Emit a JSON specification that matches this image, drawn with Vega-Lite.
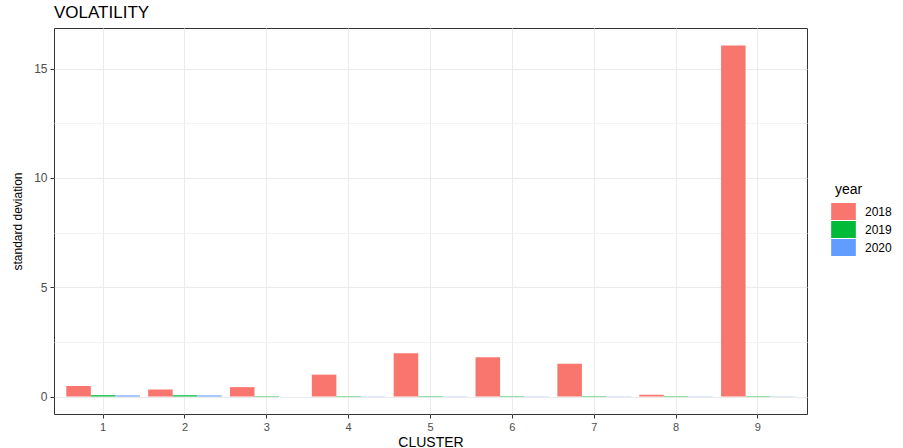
{
  "$schema": "https://vega.github.io/schema/vega-lite/v6.json",
  "width": 753,
  "height": 386,
  "autosize": "none",
  "padding": {"left": 54, "top": 28, "right": 96, "bottom": 34},
  "background": "white",
  "title": {"text": "VOLATILITY", "anchor": "start", "frame": "group", "dx": 0, "offset": 6, "fontSize": 17, "fontWeight": "normal", "font": "Liberation Sans", "color": "#000000"},
  "config": {
    "view": {"stroke": "#333333", "strokeWidth": 1},
    "font": "Liberation Sans"
  },
  "data": {"values": [
    {"cluster": "1", "year": "2018", "sd": 0.48},
    {"cluster": "1", "year": "2019", "sd": 0.06},
    {"cluster": "1", "year": "2020", "sd": 0.05},
    {"cluster": "2", "year": "2018", "sd": 0.32},
    {"cluster": "2", "year": "2019", "sd": 0.06},
    {"cluster": "2", "year": "2020", "sd": 0.05},
    {"cluster": "3", "year": "2018", "sd": 0.43},
    {"cluster": "3", "year": "2019", "sd": 0.02},
    {"cluster": "3", "year": "2020", "sd": 0.0},
    {"cluster": "4", "year": "2018", "sd": 1.0},
    {"cluster": "4", "year": "2019", "sd": 0.02},
    {"cluster": "4", "year": "2020", "sd": 0.01},
    {"cluster": "5", "year": "2018", "sd": 1.98},
    {"cluster": "5", "year": "2019", "sd": 0.02},
    {"cluster": "5", "year": "2020", "sd": 0.01},
    {"cluster": "6", "year": "2018", "sd": 1.8},
    {"cluster": "6", "year": "2019", "sd": 0.02},
    {"cluster": "6", "year": "2020", "sd": 0.01},
    {"cluster": "7", "year": "2018", "sd": 1.5},
    {"cluster": "7", "year": "2019", "sd": 0.02},
    {"cluster": "7", "year": "2020", "sd": 0.01},
    {"cluster": "8", "year": "2018", "sd": 0.08},
    {"cluster": "8", "year": "2019", "sd": 0.02},
    {"cluster": "8", "year": "2020", "sd": 0.01},
    {"cluster": "9", "year": "2018", "sd": 16.06},
    {"cluster": "9", "year": "2019", "sd": 0.02},
    {"cluster": "9", "year": "2020", "sd": 0.01}
  ]},
  "mark": {"type": "bar"},
  "encoding": {
    "x": {
      "field": "cluster", "type": "nominal",
      "scale": {"paddingInner": 0.1, "paddingOuter": 0.15},
      "axis": {
        "title": "CLUSTER", "titleFont": "Liberation Sans", "titleFontSize": 14, "titleFontWeight": "normal", "titleColor": "#000000", "titlePadding": 3,
        "labelAngle": 0, "labelFontSize": 11, "labelColor": "#4d4d4d", "labelPadding": 3,
        "tickColor": "#333333", "tickSize": 4, "domain": false,
        "grid": true, "gridColor": "#ebebeb", "gridWidth": 1, "bandPosition": 0.5
      }
    },
    "xOffset": {"field": "year", "type": "nominal", "scale": {"paddingInner": 0, "paddingOuter": 0}},
    "y": {
      "field": "sd", "type": "quantitative",
      "scale": {"domain": [-0.8, 16.86], "nice": false, "zero": false},
      "axis": {
        "title": "standard deviation", "titleFont": "Liberation Sans", "titleFontSize": 12, "titleFontWeight": "normal", "titleColor": "#000000", "titlePadding": 9,
        "values": [0, 2.5, 5, 7.5, 10, 12.5, 15],
        "labelExpr": "datum.value % 5 === 0 ? datum.label : ''",
        "labelFontSize": 12, "labelColor": "#4d4d4d", "labelPadding": 3,
        "tickSize": 4, "domain": false,
        "tickColor": {"condition": {"test": "datum.value % 5 === 0", "value": "#333333"}, "value": "transparent"},
        "grid": true,
        "gridColor": {"condition": {"test": "datum.value % 5 === 0", "value": "#ebebeb"}, "value": "#f3f3f3"},
        "gridWidth": 1
      }
    },
    "color": {
      "field": "year", "type": "nominal",
      "scale": {"domain": ["2018", "2019", "2020"], "range": ["#F8766D", "#00BA38", "#619CFF"]},
      "legend": {
        "title": "year", "titleFont": "Liberation Sans", "titleFontSize": 14, "titleFontWeight": "normal", "titleColor": "#000000",
        "orient": "none", "legendX": 781, "legendY": 155,
        "symbolType": "M-1.45,-1H1.45V1H-1.45Z", "symbolSize": 289, "symbolStrokeWidth": 0, "symbolOpacity": 1,
        "labelFontSize": 12, "labelColor": "#000000", "labelOffset": 13,
        "rowPadding": 1, "titlePadding": 6
      }
    }
  }
}
